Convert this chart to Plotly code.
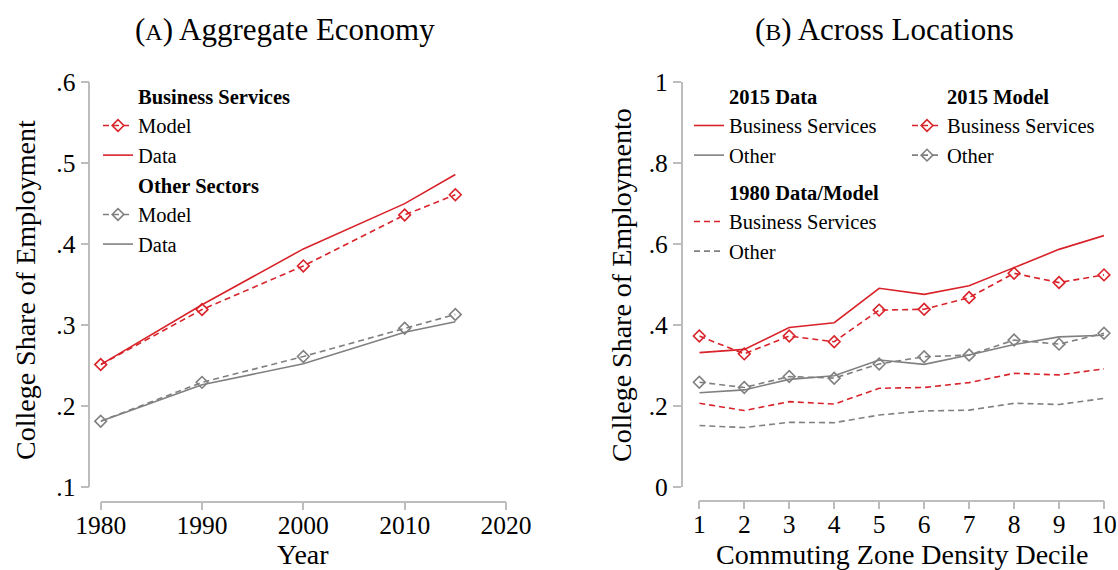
import plotly.graph_objects as go

# ---------------- Data ----------------
years = [1980, 1990, 2000, 2010, 2015]
bs_model_a = [0.251, 0.319, 0.373, 0.436, 0.461]
bs_data_a = [0.251, 0.325, 0.394, 0.450, 0.486]
oth_model_a = [0.181, 0.229, 0.261, 0.296, 0.313]
oth_data_a = [0.181, 0.226, 0.252, 0.291, 0.304]

deciles = [1, 2, 3, 4, 5, 6, 7, 8, 9, 10]
bs_data_2015 = [0.331, 0.339, 0.393, 0.405, 0.490, 0.475, 0.496, 0.542, 0.586, 0.620]
bs_model_2015 = [0.372, 0.328, 0.372, 0.358, 0.436, 0.438, 0.467, 0.527, 0.504, 0.523]
oth_data_2015 = [0.232, 0.239, 0.265, 0.274, 0.313, 0.302, 0.325, 0.351, 0.370, 0.374]
oth_model_2015 = [0.258, 0.245, 0.272, 0.268, 0.303, 0.321, 0.325, 0.362, 0.352, 0.379]
bs_1980 = [0.206, 0.188, 0.210, 0.204, 0.243, 0.245, 0.257, 0.280, 0.276, 0.291]
oth_1980 = [0.151, 0.146, 0.159, 0.158, 0.177, 0.187, 0.189, 0.206, 0.203, 0.218]

ytick_a = [0.1, 0.2, 0.3, 0.4, 0.5, 0.6]
ytick_a_text = [".1", ".2", ".3", ".4", ".5", ".6"]
xtick_a = [1980, 1990, 2000, 2010, 2020]
ytick_b = [0, 0.2, 0.4, 0.6, 0.8, 1]
ytick_b_text = ["0", ".2", ".4", ".6", ".8", "1"]

# ---------------- Style ----------------
RED = "#d9232a"
GRAY = "#808080"
AXC = "#bdbdbd"
FONT = "Liberation Serif"
DASH = "6px,4px"
W, H = 1118, 570

def px(x):
    return x / W

def py(y):
    return 1 - y / H

fig = go.Figure()

def header(name, legend, xa, ya, group=None):
    fig.add_trace(go.Scatter(
        x=[None], y=[None], mode="markers", name=f"<b>{name}</b>",
        marker=dict(color="rgba(0,0,0,0)", size=1),
        legend=legend, xaxis=xa, yaxis=ya, legendgroup=group,
        hoverinfo="skip"))

def series(x, y, name, color, dash, marker, legend, xa, ya, group=None):
    fig.add_trace(go.Scatter(
        x=x, y=y, name=name,
        mode="lines+markers" if marker else "lines",
        line=dict(color=color, width=1.6, dash=dash),
        marker=dict(symbol="diamond-open", size=9, color=color,
                    line=dict(width=1.6, color=color)),
        legend=legend, xaxis=xa, yaxis=ya, legendgroup=group,
        cliponaxis=False))

# Panel A
header("Business Services", "legend", "x", "y")
series(years, bs_model_a, "Model", RED, DASH, True, "legend", "x", "y")
series(years, bs_data_a, "Data", RED, "solid", False, "legend", "x", "y")
header("Other Sectors", "legend", "x", "y")
series(years, oth_model_a, "Model", GRAY, DASH, True, "legend", "x", "y")
series(years, oth_data_a, "Data", GRAY, "solid", False, "legend", "x", "y")

# Panel B, column 1
header("2015 Data", "legend2", "x2", "y2", "g1")
series(deciles, bs_data_2015, "Business Services", RED, "solid", False, "legend2", "x2", "y2", "g1")
series(deciles, oth_data_2015, "Other", GRAY, "solid", False, "legend2", "x2", "y2", "g1")
header("1980 Data/Model", "legend2", "x2", "y2", "g2")
series(deciles, bs_1980, "Business Services", RED, DASH, False, "legend2", "x2", "y2", "g2")
series(deciles, oth_1980, "Other", GRAY, DASH, False, "legend2", "x2", "y2", "g2")

# Panel B, column 2
header("2015 Model", "legend3", "x2", "y2")
series(deciles, bs_model_2015, "Business Services", RED, DASH, True, "legend3", "x2", "y2")
series(deciles, oth_model_2015, "Other", GRAY, DASH, True, "legend3", "x2", "y2")

axis_common = dict(showline=True, linecolor=AXC, linewidth=1.5, ticks="outside",
                   ticklen=8, tickcolor=AXC, tickwidth=1.5, showgrid=False,
                   zeroline=False, automargin=False,
                   tickfont=dict(family=FONT, size=25.5, color="black"))

legend_common = dict(bgcolor="rgba(0,0,0,0)", font=dict(family=FONT, size=20.5, color="black"),
                     xanchor="left", yanchor="top", itemwidth=30, tracegroupgap=0,
                     itemclick=False, itemdoubleclick=False)

fig.update_layout(
    width=W, height=H, margin=dict(l=0, r=0, t=0, b=0, autoexpand=False),
    plot_bgcolor="white", paper_bgcolor="white",
    font=dict(family=FONT, color="black"),
    xaxis=dict(domain=[px(100.7), px(506)], range=[1980, 2020], tickvals=xtick_a,
               anchor="free", position=py(501.7), ticklabelstandoff=-7, **axis_common),
    yaxis=dict(domain=[py(486.7), py(82.3)], range=[0.1, 0.6], tickvals=ytick_a,
               ticktext=ytick_a_text, anchor="free", position=px(89.3), **axis_common),
    xaxis2=dict(domain=[px(699.3), px(1104)], range=[1, 10], tickvals=deciles,
                anchor="free", position=py(500.7), ticklabelstandoff=-7, **axis_common),
    yaxis2=dict(domain=[py(486.7), py(81.7)], range=[0, 1], tickvals=ytick_b,
                ticktext=ytick_b_text, anchor="free", position=px(681.7), **axis_common),
    legend=dict(x=px(98), y=py(76), traceorder="normal", **legend_common),
    legend2=dict(x=px(689), y=py(76), traceorder="grouped", **{**legend_common, "tracegroupgap": 7}),
    legend3=dict(x=px(907), y=py(76), traceorder="normal", **legend_common),
    showlegend=True,
)

ann = [
    dict(text="(<span style='font-size:24px'>A</span>) Aggregate Economy", x=px(285), y=py(30), size=31, angle=0),
    dict(text="(<span style='font-size:24px'>B</span>) Across Locations", x=px(884), y=py(30), size=31, angle=0),
    dict(text="College Share of Employment", x=px(25), y=py(290), size=28, angle=-90),
    dict(text="College Share of Employmento", x=px(621), y=py(285), size=28, angle=-90),
    dict(text="Year", x=px(303), y=py(554), size=28, angle=0),
    dict(text="Commuting Zone Density Decile", x=px(902), y=py(554), size=28, angle=0),
]
for a in ann:
    fig.add_annotation(text=a["text"], x=a["x"], y=a["y"], xref="paper", yref="paper",
                       showarrow=False, xanchor="center", yanchor="middle",
                       textangle=a["angle"], font=dict(family=FONT, size=a["size"], color="black"))

fig.write_html("out.html", config={"displayModeBar": False},
               post_script="document.body.style.margin='0';document.body.style.overflow='hidden';")
